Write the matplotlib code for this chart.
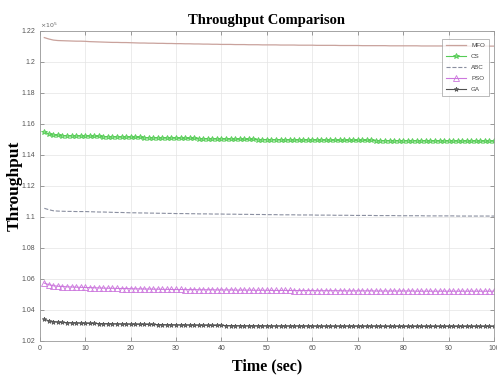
import matplotlib
matplotlib.use("Agg")
import matplotlib.pyplot as plt
from matplotlib.ticker import FuncFormatter

# time axis, one sample per second
time_sec = list(range(1, 101))

# throughput values in units of 1e5
mfo = [1.2157, 1.2148, 1.2141, 1.2138, 1.2137, 1.2136, 1.2135, 1.2134, 1.2134, 1.2133,
       1.2131, 1.2130, 1.2129, 1.2128, 1.2127, 1.2126, 1.2126, 1.2125, 1.2125, 1.2124,
       1.2123, 1.2122, 1.2122, 1.2121, 1.2121, 1.2120, 1.2120, 1.2119, 1.2119, 1.2118,
       1.2118, 1.2117, 1.2117, 1.2116, 1.2116, 1.2115, 1.2115, 1.2114, 1.2114, 1.2113,
       1.2113, 1.2113, 1.2112, 1.2112, 1.2112, 1.2111, 1.2111, 1.2111, 1.2110, 1.2110,
       1.2110, 1.2110, 1.2109, 1.2109, 1.2109, 1.2109, 1.2108, 1.2108, 1.2108, 1.2108,
       1.2107, 1.2107, 1.2107, 1.2107, 1.2107, 1.2106, 1.2106, 1.2106, 1.2106, 1.2106,
       1.2105, 1.2105, 1.2105, 1.2105, 1.2105, 1.2105, 1.2104, 1.2104, 1.2104, 1.2104,
       1.2104, 1.2104, 1.2104, 1.2103, 1.2103, 1.2103, 1.2103, 1.2103, 1.2103, 1.2103,
       1.2103, 1.2102, 1.2102, 1.2102, 1.2102, 1.2102, 1.2102, 1.2102, 1.2102, 1.2102]

cs = [1.1549, 1.1535, 1.1528, 1.1526, 1.1525, 1.1524, 1.1523, 1.1523, 1.1522, 1.1522,
      1.1521, 1.1520, 1.1519, 1.1518, 1.1518, 1.1517, 1.1516, 1.1515, 1.1515, 1.1514,
      1.1513, 1.1513, 1.1512, 1.1511, 1.1511, 1.1510, 1.1510, 1.1509, 1.1509, 1.1508,
      1.1507, 1.1507, 1.1506, 1.1506, 1.1505, 1.1505, 1.1504, 1.1504, 1.1503, 1.1503,
      1.1502, 1.1502, 1.1501, 1.1501, 1.1500, 1.1500, 1.1500, 1.1499, 1.1499, 1.1499,
      1.1498, 1.1498, 1.1498, 1.1497, 1.1497, 1.1497, 1.1496, 1.1496, 1.1496, 1.1496,
      1.1495, 1.1495, 1.1495, 1.1495, 1.1494, 1.1494, 1.1494, 1.1494, 1.1493, 1.1493,
      1.1493, 1.1493, 1.1493, 1.1492, 1.1492, 1.1492, 1.1492, 1.1492, 1.1491, 1.1491,
      1.1491, 1.1491, 1.1491, 1.1491, 1.1490, 1.1490, 1.1490, 1.1490, 1.1490, 1.1490,
      1.1490, 1.1489, 1.1489, 1.1489, 1.1489, 1.1489, 1.1489, 1.1489, 1.1489, 1.1489]

abc = [1.1055, 1.1046, 1.1039, 1.1037, 1.1036, 1.1035, 1.1035, 1.1034, 1.1034, 1.1034,
       1.1033, 1.1032, 1.1031, 1.1031, 1.1030, 1.1029, 1.1028, 1.1028, 1.1027, 1.1026,
       1.1026, 1.1025, 1.1025, 1.1024, 1.1024, 1.1023, 1.1023, 1.1022, 1.1022, 1.1021,
       1.1021, 1.1021, 1.1020, 1.1020, 1.1019, 1.1019, 1.1019, 1.1018, 1.1018, 1.1018,
       1.1017, 1.1017, 1.1017, 1.1016, 1.1016, 1.1016, 1.1015, 1.1015, 1.1015, 1.1014,
       1.1014, 1.1014, 1.1013, 1.1013, 1.1013, 1.1013, 1.1012, 1.1012, 1.1012, 1.1012,
       1.1011, 1.1011, 1.1011, 1.1011, 1.1010, 1.1010, 1.1010, 1.1010, 1.1009, 1.1009,
       1.1009, 1.1009, 1.1009, 1.1008, 1.1008, 1.1008, 1.1008, 1.1008, 1.1007, 1.1007,
       1.1007, 1.1007, 1.1007, 1.1007, 1.1006, 1.1006, 1.1006, 1.1006, 1.1006, 1.1006,
       1.1006, 1.1005, 1.1005, 1.1005, 1.1005, 1.1005, 1.1005, 1.1005, 1.1005, 1.1005]

pso = [1.0572, 1.0562, 1.0555, 1.0552, 1.0550, 1.0548, 1.0547, 1.0546, 1.0545, 1.0544,
       1.0543, 1.0542, 1.0541, 1.0540, 1.0539, 1.0539, 1.0538, 1.0537, 1.0537, 1.0536,
       1.0535, 1.0535, 1.0534, 1.0534, 1.0533, 1.0533, 1.0532, 1.0532, 1.0531, 1.0531,
       1.0531, 1.0530, 1.0530, 1.0530, 1.0529, 1.0529, 1.0529, 1.0529, 1.0528, 1.0528,
       1.0528, 1.0528, 1.0527, 1.0527, 1.0527, 1.0527, 1.0526, 1.0526, 1.0526, 1.0526,
       1.0525, 1.0525, 1.0525, 1.0525, 1.0525, 1.0524, 1.0524, 1.0524, 1.0524, 1.0524,
       1.0523, 1.0523, 1.0523, 1.0523, 1.0523, 1.0523, 1.0522, 1.0522, 1.0522, 1.0522,
       1.0522, 1.0522, 1.0522, 1.0521, 1.0521, 1.0521, 1.0521, 1.0521, 1.0521, 1.0521,
       1.0521, 1.0521, 1.0520, 1.0520, 1.0520, 1.0520, 1.0520, 1.0520, 1.0520, 1.0520,
       1.0520, 1.0520, 1.0520, 1.0520, 1.0520, 1.0520, 1.0520, 1.0520, 1.0520, 1.0520]

ga = [1.0339, 1.0328, 1.0324, 1.0320, 1.0318, 1.0317, 1.0316, 1.0315, 1.0314, 1.0313,
      1.0312, 1.0312, 1.0311, 1.0310, 1.0310, 1.0309, 1.0309, 1.0308, 1.0308, 1.0307,
      1.0307, 1.0306, 1.0306, 1.0305, 1.0305, 1.0304, 1.0304, 1.0303, 1.0303, 1.0302,
      1.0302, 1.0302, 1.0301, 1.0301, 1.0300, 1.0300, 1.0300, 1.0299, 1.0299, 1.0299,
      1.0298, 1.0298, 1.0297, 1.0297, 1.0296, 1.0296, 1.0296, 1.0296, 1.0296, 1.0296,
      1.0295, 1.0295, 1.0295, 1.0295, 1.0295, 1.0295, 1.0295, 1.0295, 1.0295, 1.0295,
      1.0294, 1.0294, 1.0294, 1.0294, 1.0294, 1.0294, 1.0294, 1.0294, 1.0294, 1.0294,
      1.0294, 1.0294, 1.0294, 1.0294, 1.0294, 1.0293, 1.0293, 1.0293, 1.0293, 1.0293,
      1.0293, 1.0293, 1.0293, 1.0293, 1.0293, 1.0293, 1.0293, 1.0293, 1.0293, 1.0293,
      1.0293, 1.0293, 1.0293, 1.0293, 1.0293, 1.0293, 1.0293, 1.0293, 1.0293, 1.0293]

y_ticks = [1.02, 1.04, 1.06, 1.08, 1.1, 1.12, 1.14, 1.16, 1.18, 1.2, 1.22]
x_ticks = [0, 10, 20, 30, 40, 50, 60, 70, 80, 90, 100]

fig = plt.figure(figsize=(4.97, 3.82), dpi=100)
ax = fig.add_axes([0.080, 0.108, 0.914, 0.811])

ax.plot(time_sec, mfo, color="#c9a29c", lw=0.9, label="MFO")
ax.plot(time_sec, cs, color="#55cc55", lw=0.8, marker="*", ms=3.8,
        mfc="#88dd88", mec="#55cc55", mew=0.6, label="CS")
ax.plot(time_sec, abc, color="#8a8fa0", lw=0.8, ls="--", label="ABC")
ax.plot(time_sec, pso, color="#cc77dd", lw=0.8, marker="^", ms=3.8,
        mfc="none", mec="#cc77dd", mew=0.6, label="PSO")
ax.plot(time_sec, ga, color="#505050", lw=0.8, marker="*", ms=3.4,
        mfc="#707070", mec="#505050", mew=0.5, label="GA")

ax.set_xlim(0, 100)
ax.set_ylim(1.02, 1.22)
ax.set_xticks(x_ticks)
ax.set_yticks(y_ticks)
ax.yaxis.set_major_formatter(FuncFormatter(lambda v, p: "%g" % round(v, 2)))
ax.tick_params(direction="in", length=3, width=0.5, top=True, right=True,
               labelsize=5, labelcolor="#555555", color="#777777", pad=3)
for lab in ax.get_xticklabels() + ax.get_yticklabels():
    lab.set_fontfamily("Liberation Sans")
ax.grid(True, color="#e4e4e4", lw=0.5)
for s in ax.spines.values():
    s.set_color("#999999")
    s.set_linewidth(0.6)

ax.text(0.0, 1.004, r"$\times10^5$", transform=ax.transAxes, fontsize=4.5,
        color="#666666", ha="left", va="bottom")

ax.set_title("Throughput Comparison", fontfamily="Liberation Serif",
             fontweight="bold", fontsize=10.5, pad=5)
ax.set_xlabel("Time (sec)", fontfamily="Liberation Serif", fontweight="bold",
              fontsize=11.5, labelpad=5)
ax.set_ylabel("Throughput", fontfamily="Liberation Serif", fontweight="bold",
              fontsize=12.5, labelpad=-1)

leg = ax.legend(loc="upper right", bbox_to_anchor=(0.995, 0.985),
                frameon=True, fancybox=False, edgecolor="#888888",
                handlelength=3.2, labelspacing=0.9, borderpad=0.6,
                prop={"family": "Liberation Sans", "size": 4.5})
leg.get_frame().set_linewidth(0.5)
for t in leg.get_texts():
    t.set_color("#444444")

fig.savefig("out.png", dpi=100)
